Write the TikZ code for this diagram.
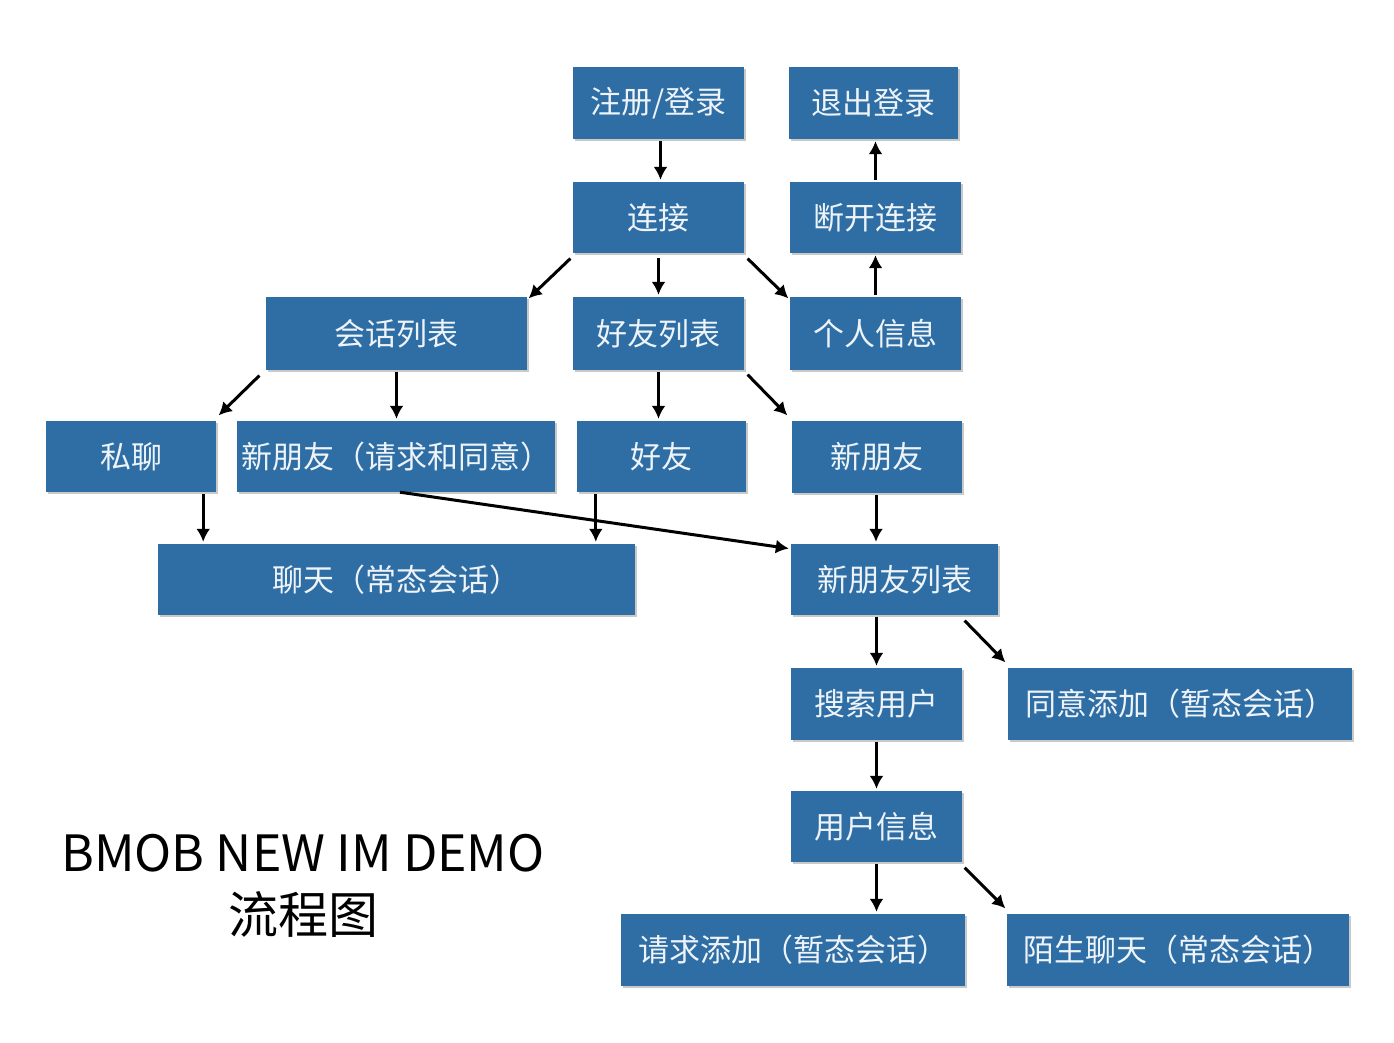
\documentclass[tikz,border=0pt]{standalone}
\usepackage{fontspec}
\setmainfont{Noto Sans CJK SC}
\usetikzlibrary{arrows.meta,shadows,calc}
\definecolor{boxblue}{HTML}{2E6EA5}
\definecolor{boxtext}{HTML}{EEF3F8}
\begin{document}
\begin{tikzpicture}[x=1pt,y=-1pt,
  box/.style={fill=boxblue, text=boxtext, inner sep=0pt, font=\fontsize{31}{35}\selectfont,
    drop shadow={shadow xshift=1.5pt, shadow yshift=-2pt, opacity=0.35, fill=black!60}},
  arr/.style={-{Latex[length=13pt,width=14pt]}, line width=3pt, shorten <=2pt, shorten >=2pt}]
\useasboundingbox[fill=white] (0,0) rectangle (1394,1043);
% boxes
\node[box, minimum width=171pt, minimum height=72pt] (login) at (658.5,103) {注册/登录};
\node[box, minimum width=169pt, minimum height=72pt] (logout) at (873.5,103) {退出登录};
\node[box, minimum width=171pt, minimum height=71pt] (conn) at (658.5,217.5) {连接};
\node[box, minimum width=171pt, minimum height=71pt] (disc) at (875.5,217.5) {断开连接};
\node[box, minimum width=261pt, minimum height=73pt] (sess) at (396.5,333.5) {会话列表};
\node[box, minimum width=171pt, minimum height=73pt] (flist) at (658.5,333.5) {好友列表};
\node[box, minimum width=171pt, minimum height=73pt] (me) at (875.5,333.5) {个人信息};
\node[box, minimum width=170pt, minimum height=71pt] (priv) at (131,456.5) {私聊};
\node[box, minimum width=318pt, minimum height=71pt] (newreq) at (396,456.5) {新朋友（请求和同意）};
\node[box, minimum width=169pt, minimum height=71pt] (friend) at (661.5,456.5) {好友};
\node[box, minimum width=170pt, minimum height=72pt] (newf) at (877,457) {新朋友};
\node[box, minimum width=477pt, minimum height=71pt] (chat) at (396.5,579.5) {聊天（常态会话）};
\node[box, minimum width=207pt, minimum height=71pt] (nfl) at (894.5,579.5) {新朋友列表};
\node[box, minimum width=171pt, minimum height=72pt] (search) at (876.5,704) {搜索用户};
\node[box, minimum width=344pt, minimum height=72pt] (agree) at (1180,704) {同意添加（暂态会话）};
\node[box, minimum width=171pt, minimum height=71pt] (uinfo) at (876.5,826.5) {用户信息};
\node[box, minimum width=344pt, minimum height=72pt] (reqadd) at (793,950) {请求添加（暂态会话）};
\node[box, minimum width=342pt, minimum height=72pt] (stranger) at (1178,950) {陌生聊天（常态会话）};
% title
\node[font=\fontsize{50}{62}\selectfont, align=center, inner sep=0pt] (title) at (303,886) {BMOB NEW IM DEMO\\流程图};
% arrows
\draw[arr] ([xshift=2pt]login.south) -- ([xshift=2pt]login.south |- conn.north);
\draw[arr] (disc.north) -- (disc.north |- logout.south);
\draw[arr] (me.north) -- (me.north |- disc.south);
\draw[arr] ($(conn.south west)+(-1,4)$) -- ($(sess.north east)+(0,3)$);
\draw[arr] ($(conn.south)+(0,3)$) -- (flist.north);
\draw[arr] ($(conn.south east)+(2,4)$) -- ($(me.north west)+(0,3)$);
\draw[arr] ($(sess.south west)+(-5,4)$) -- ($(priv.north east)+(1,-4)$);
\draw[arr] (sess.south) -- (sess.south |- newreq.north);
\draw[arr] (flist.south) -- (flist.south |- friend.north);
\draw[arr] ($(flist.south east)+(2,3)$) -- ($(newf.north west)+(-3,-4)$);
\draw[arr] ([xshift=-13pt]priv.south east) -- ([xshift=-13pt]priv.south east |- chat.north);
\draw[arr] ([xshift=19pt]friend.south west) -- ([xshift=19pt]friend.south west |- chat.north);
\draw[arr, shorten <=0pt] ($(newreq.south)+(4,0)$) -- ($(nfl.north west)+(0,5)$);
\draw[arr] ([xshift=-1pt]newf.south) -- ([xshift=-1pt]newf.south |- nfl.north);
\draw[arr] (search.north |- nfl.south) -- (search.north);
\draw[arr] ($(search.north east |- nfl.south)+(1,4)$) -- ($(agree.north west)+(-1,-4)$);
\draw[arr] (search.south) -- (uinfo.north);
\draw[arr] (uinfo.south) -- (uinfo.south |- reqadd.north);
\draw[arr] ($(uinfo.south east)+(1,4)$) -- ($(stranger.north west)+(0,-4)$);
\end{tikzpicture}
\end{document}
